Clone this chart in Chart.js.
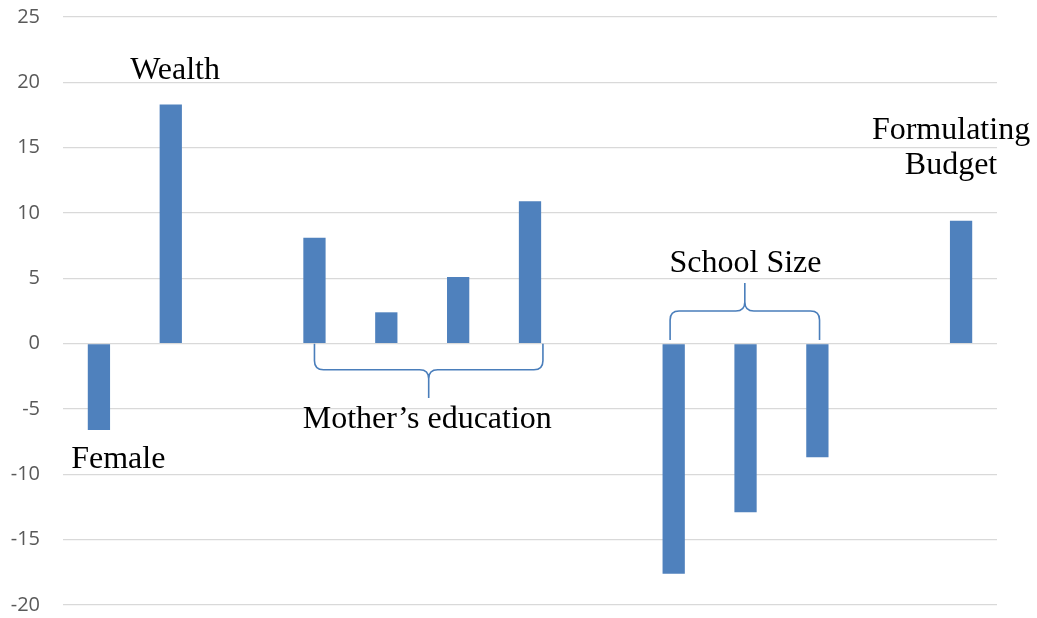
<!DOCTYPE html>
<html>
<head>
<meta charset="utf-8">
<script src="https://cdn.jsdelivr.net/npm/chart.js@4"></script>
<style>
    html, body { margin: 0; padding: 0; background: #ffffff; }
    #wrap { width: 1037px; height: 618px; }
</style>
</head>
<body>
<div id="wrap"><canvas id="chart"></canvas></div>
<script>
// Bar groups: two singles, four mother's-education levels, three school sizes, budget
const categories = ['Female', 'Wealth', '', 'Mother 1', 'Mother 2', 'Mother 3', 'Mother 4', '',
    'Size 1', 'Size 2', 'Size 3', '', 'Formulating Budget'];
const effects = [-6.6, 18.3, null, 8.1, 2.4, 5.1, 10.9, null, -17.6, -12.9, -8.7, null, 9.4];
const yTicks = [-20, -15, -10, -5, 0, 5, 10, 15, 20, 25];

// Callout text, placed in data space (x = category index, y = value)
const notes = [
    { lines: ['Wealth'], x: 1.06, y: 20.25 },
    { lines: ['Female'], x: 0.27, y: -9.5 },
    { lines: ['Mother\u2019s education'], x: 4.57, y: -6.45 },
    { lines: ['School Size'], x: 9.0, y: 5.5 },
    { lines: ['Formulating', 'Budget'], x: 11.86, y: 15.66 }
];

// Curly braces grouping bars: from/to on x, end/mid/tip on y
const braces = [
    { from: 3.0, to: 6.18, end: 0, mid: -2.0, tip: -4.15 },
    { from: 7.95, to: 10.03, end: 0.28, mid: 2.5, tip: 4.65 }
];

const BAR_COLOR = '#4F81BD';
const BRACE_COLOR = '#4A7EBB';
const GRID_COLOR = '#D9D9D9';

const calloutPlugin = {
    id: 'callouts',
    afterDatasetsDraw(chart) {
        const ctx = chart.ctx;
        const xs = chart.scales.x;
        const ys = chart.scales.y;

        ctx.save();
        ctx.strokeStyle = BRACE_COLOR;
        ctx.lineWidth = 1.6;
        braces.forEach(b => {
            const x1 = xs.getPixelForValue(b.from);
            const x2 = xs.getPixelForValue(b.to);
            const xm = (x1 + x2) / 2;
            const yEnd = ys.getPixelForValue(b.end);
            const yMid = ys.getPixelForValue(b.mid);
            const yTip = ys.getPixelForValue(b.tip);
            const dir = Math.sign(yMid - yEnd);
            const r = 9;
            ctx.beginPath();
            ctx.moveTo(x1, yEnd);
            ctx.lineTo(x1, yMid - dir * r);
            ctx.quadraticCurveTo(x1, yMid, x1 + r, yMid);
            ctx.lineTo(xm - r, yMid);
            ctx.quadraticCurveTo(xm, yMid, xm, yMid + dir * r);
            ctx.lineTo(xm, yTip);
            ctx.moveTo(xm, yMid + dir * r);
            ctx.quadraticCurveTo(xm, yMid, xm + r, yMid);
            ctx.lineTo(x2 - r, yMid);
            ctx.quadraticCurveTo(x2, yMid, x2, yMid - dir * r);
            ctx.lineTo(x2, yEnd);
            ctx.stroke();
        });

        ctx.fillStyle = '#000000';
        ctx.font = '32px "Liberation Serif", "Times New Roman", serif';
        ctx.textAlign = 'center';
        ctx.textBaseline = 'alphabetic';
        notes.forEach(n => {
            const px = xs.getPixelForValue(n.x);
            const py = ys.getPixelForValue(n.y);
            n.lines.forEach((line, i) => {
                ctx.fillText(line, px, py + i * 35);
            });
        });
        ctx.restore();
    }
};

new Chart(document.getElementById('chart'), {
    type: 'bar',
    data: {
        labels: categories,
        datasets: [{
            data: effects,
            backgroundColor: BAR_COLOR,
            borderWidth: 0,
            barPercentage: 0.31,
            categoryPercentage: 1.0
        }]
    },
    options: {
        responsive: true,
        maintainAspectRatio: false,
        animation: false,
        layout: {
            padding: { top: 17, right: 40, bottom: 13, left: 0 }
        },
        plugins: {
            legend: { display: false },
            tooltip: { enabled: false }
        },
        scales: {
            x: {
                afterFit(scale) {
                    scale.height = 0;
                },
                grid: { display: false },
                border: { display: false },
                ticks: { display: false }
            },
            y: {
                min: -20,
                max: 25,
                afterFit(scale) {
                    scale.width = 63;
                    scale.paddingTop = 0;
                    scale.paddingBottom = 0;
                },
                afterBuildTicks(scale) {
                    scale.ticks = yTicks.map(v => ({ value: v }));
                },
                grid: {
                    color: GRID_COLOR,
                    lineWidth: 1.3,
                    drawTicks: false
                },
                border: { display: false },
                ticks: {
                    padding: 23,
                    color: '#595959',
                    font: { family: '"Open Sans", "Liberation Sans", sans-serif', size: 20 }
                }
            }
        }
    },
    plugins: [calloutPlugin]
});
</script>
</body>
</html>
